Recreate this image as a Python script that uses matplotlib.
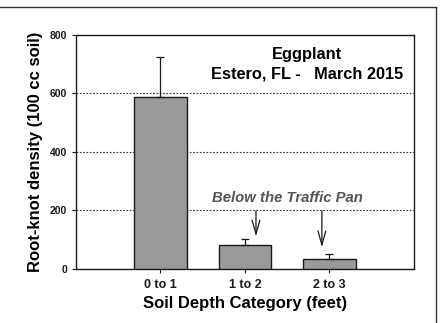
import matplotlib.pyplot as plt
from matplotlib.lines import Line2D

plt.rcParams['font.family'] = ['Liberation Sans', 'DejaVu Sans']

# root-knot counts by depth
categories = ['0 to 1', '1 to 2', '2 to 3']
density = [588, 82, 36]
err_upper = [136, 19, 16]

fig = plt.figure(figsize=(4.4, 3.23), dpi=100)
ax = fig.add_axes([0.1727, 0.167, 0.7682, 0.726])

xpos = [1, 2, 3]
ax.bar(xpos, density, width=0.62, color='#9a9a9a', edgecolor='#1a1a1a',
       linewidth=1.0, zorder=3)
ax.errorbar(xpos, density, yerr=[[0, 0, 0], err_upper], fmt='none',
            ecolor='#1a1a1a', elinewidth=0.9, capsize=3, capthick=0.9, zorder=4)

ax.set_xlim(0, 4)
ax.set_ylim(0, 800)
ax.set_xticks(xpos)
ax.set_xticklabels(categories, fontsize=9, fontweight='bold')
ax.set_yticks([0, 200, 400, 600, 800])
ax.set_yticklabels(['0', '200', '400', '600', '800'], fontsize=7.5, fontweight='bold')
ax.tick_params(direction='out', length=3, width=0.8, colors='#1a1a1a')
ax.tick_params(axis='x', pad=4)
ax.yaxis.grid(True, linestyle=(0, (1.5, 1.5)), color='#333333', linewidth=0.8, zorder=0)
for sp in ax.spines.values():
    sp.set_linewidth(1.0)
    sp.set_color('#1a1a1a')

ax.set_xlabel('Soil Depth Category (feet)', fontsize=12, fontweight='bold', labelpad=4)
ax.set_ylabel('Root-knot density (100 cc soil)', fontsize=12, fontweight='bold', labelpad=5)

ax.text(2.73, 733, 'Eggplant', fontsize=11.8, fontweight='bold', ha='center', va='center')
ax.text(2.74, 666, 'Estero, FL -   March 2015', fontsize=11.8, fontweight='bold',
        ha='center', va='center')

ax.text(2.5, 242, 'Below the Traffic Pan', fontsize=10.7, fontweight='bold',
        style='italic', color='#555555', ha='center', va='center')
arrow = dict(arrowstyle='->,head_length=1.0,head_width=0.28', color='#1a1a1a', lw=0.9)
ax.annotate('', xy=(2.13, 102), xytext=(2.13, 208), arrowprops=arrow)
ax.annotate('', xy=(2.91, 65), xytext=(2.91, 208), arrowprops=arrow)

# outer frame lines
fig.add_artist(Line2D([0, 436 / 440], [1 - 7 / 323, 1 - 7 / 323],
                      transform=fig.transFigure, color='#333333', lw=1.0))
fig.add_artist(Line2D([436 / 440, 436 / 440], [0, 1 - 7 / 323],
                      transform=fig.transFigure, color='#333333', lw=1.0))

fig.savefig('out.png', dpi=100)
